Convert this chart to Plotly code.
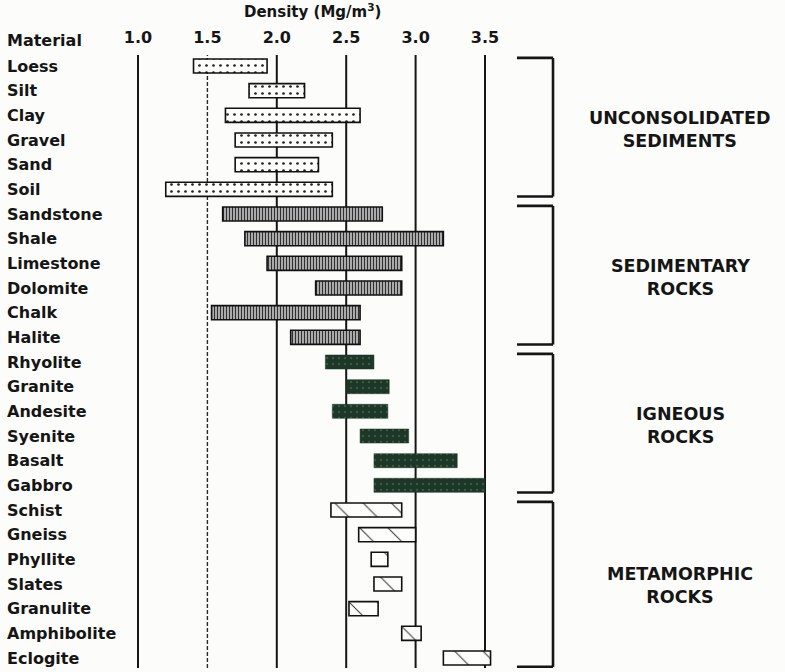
import plotly.graph_objects as go

# ---- data ----
materials = ["Loess", "Silt", "Clay", "Gravel", "Sand", "Soil",
             "Sandstone", "Shale", "Limestone", "Dolomite", "Chalk", "Halite",
             "Rhyolite", "Granite", "Andesite", "Syenite", "Basalt", "Gabbro",
             "Schist", "Gneiss", "Phyllite", "Slates", "Granulite", "Amphibolite", "Eclogite"]
low = [1.40, 1.80, 1.63, 1.70, 1.70, 1.20,
       1.61, 1.77, 1.93, 2.28, 1.53, 2.10,
       2.35, 2.50, 2.40, 2.60, 2.70, 2.70,
       2.39, 2.59, 2.68, 2.70, 2.52, 2.90, 3.20]
high = [1.93, 2.20, 2.60, 2.40, 2.30, 2.40,
        2.76, 3.20, 2.90, 2.90, 2.60, 2.60,
        2.70, 2.81, 2.80, 2.95, 3.30, 3.50,
        2.90, 3.00, 2.80, 2.90, 2.73, 3.04, 3.54]
group_labels = ["UNCONSOLIDATED<br>SEDIMENTS", "SEDIMENTARY<br>ROCKS", "IGNEOUS<br>ROCKS", "METAMORPHIC<br>ROCKS"]
group_sizes = [6, 6, 6, 7]
tick_vals = [1.0, 1.5, 2.0, 2.5, 3.0, 3.5]
tick_text = ["1.0", "1.5", "2.0", "2.5", "3.0", "3.5"]

FONT = "DejaVu Sans"
INK = "#151515"
W, H = 785, 672
TOP, BOT = 55, 668            # plot area in pixels


def paper_y(px):
    return (BOT - px) / (BOT - TOP)


styles = [
    dict(bg="#fdfdfb", fg="#222222", shape=".", size=7, solidity=0.12, line="#111111", lw=1.6),
    dict(bg="#c4c4c4", fg="#303030", shape="|", size=3, solidity=0.45, line="#111111", lw=1.6),
    dict(bg="#1c3627", fg="#3a5a45", shape=".", size=6, solidity=0.12, line="#1c3627", lw=0.5),
    dict(bg="#fdfdfb", fg="#333333", shape="\\", size=20, solidity=0.05, line="#111111", lw=1.6),
]

fig = go.Figure()
start = 0
for g, n in enumerate(group_sizes):
    names = materials[start:start + n]
    lo = low[start:start + n]
    hi = high[start:start + n]
    s = styles[g]
    fig.add_trace(go.Bar(
        y=names, x=[h - l for l, h in zip(lo, hi)], base=lo, orientation="h",
        width=0.57,
        marker=dict(color=s["bg"], line=dict(color=s["line"], width=s["lw"]),
                    pattern=dict(shape=s["shape"], fgcolor=s["fg"], bgcolor=s["bg"],
                                 size=s["size"], solidity=s["solidity"], fillmode="replace")),
        showlegend=False, hoverinfo="skip"))
    # bracket
    top = start - 0.33
    bot = start + n - 1 + (0.36 if g == len(group_sizes) - 1 else 0.29)
    bx0, bx1 = 517 / W, 553 / W
    for (x0, y0, x1, y1) in [(bx0, top, bx1, top), (bx1, top, bx1, bot), (bx0, bot, bx1, bot)]:
        fig.add_shape(type="line", xref="paper", yref="y", x0=x0, x1=x1, y0=y0, y1=y1,
                      line=dict(color=INK, width=2.6))
    cy = start + (n - 1) / 2 + 0.08
    fig.add_annotation(xref="paper", yref="y", x=680 / W, y=cy,
                       text="<b>" + group_labels[g] + "</b>", showarrow=False,
                       xanchor="center", yanchor="middle", align="center",
                       font=dict(family=FONT, size=17.5, color=INK))
    start += n

# vertical reference lines
for v in tick_vals:
    fig.add_shape(type="line", xref="x", yref="paper", x0=v, x1=v, y0=0.0, y1=1.0, layer="below",
                  line=dict(color="#2a2a2a" if v == 1.5 else INK,
                            width=1.4 if v == 1.5 else 2.0,
                            dash="4px,2px" if v == 1.5 else "solid"))

# material labels
for m in materials:
    fig.add_annotation(xref="paper", yref="y", x=5 / W, y=m, text="<b>" + m + "</b>", showarrow=False,
                       xanchor="left", yanchor="middle", font=dict(family=FONT, size=16, color=INK))

fig.add_annotation(xref="paper", yref="paper", x=5 / W, y=paper_y(40), text="<b>Material</b>",
                   showarrow=False, xanchor="left", yanchor="middle",
                   font=dict(family=FONT, size=16, color=INK))
fig.add_annotation(xref="paper", yref="paper", x=312 / W, y=paper_y(11),
                   text="<b>Density (Mg/m<sup>3</sup>)</b>", showarrow=False,
                   xanchor="center", yanchor="middle", font=dict(family=FONT, size=15, color=INK))

px_per_unit = (485 - 138) / 2.5
fig.update_layout(
    width=W, height=H,
    margin=dict(l=0, r=0, t=TOP, b=H - BOT),
    paper_bgcolor="#fcfcfa", plot_bgcolor="#fcfcfa",
    barmode="overlay",
    xaxis=dict(range=[1 - 138 / px_per_unit, 1 + (W - 138) / px_per_unit],
               side="top", tickvals=tick_vals, ticktext=["<b>" + t + "</b>" for t in tick_text], ticks="",
               showgrid=False, zeroline=False, showline=False,
               tickfont=dict(family=FONT, size=16, color=INK), ticklabelstandoff=8),
    yaxis=dict(type="category", categoryorder="array", categoryarray=materials,
               range=[24.405, -0.446], showticklabels=False, showgrid=False,
               zeroline=False, showline=False, ticks=""),
)
fig.write_html("out.html")
